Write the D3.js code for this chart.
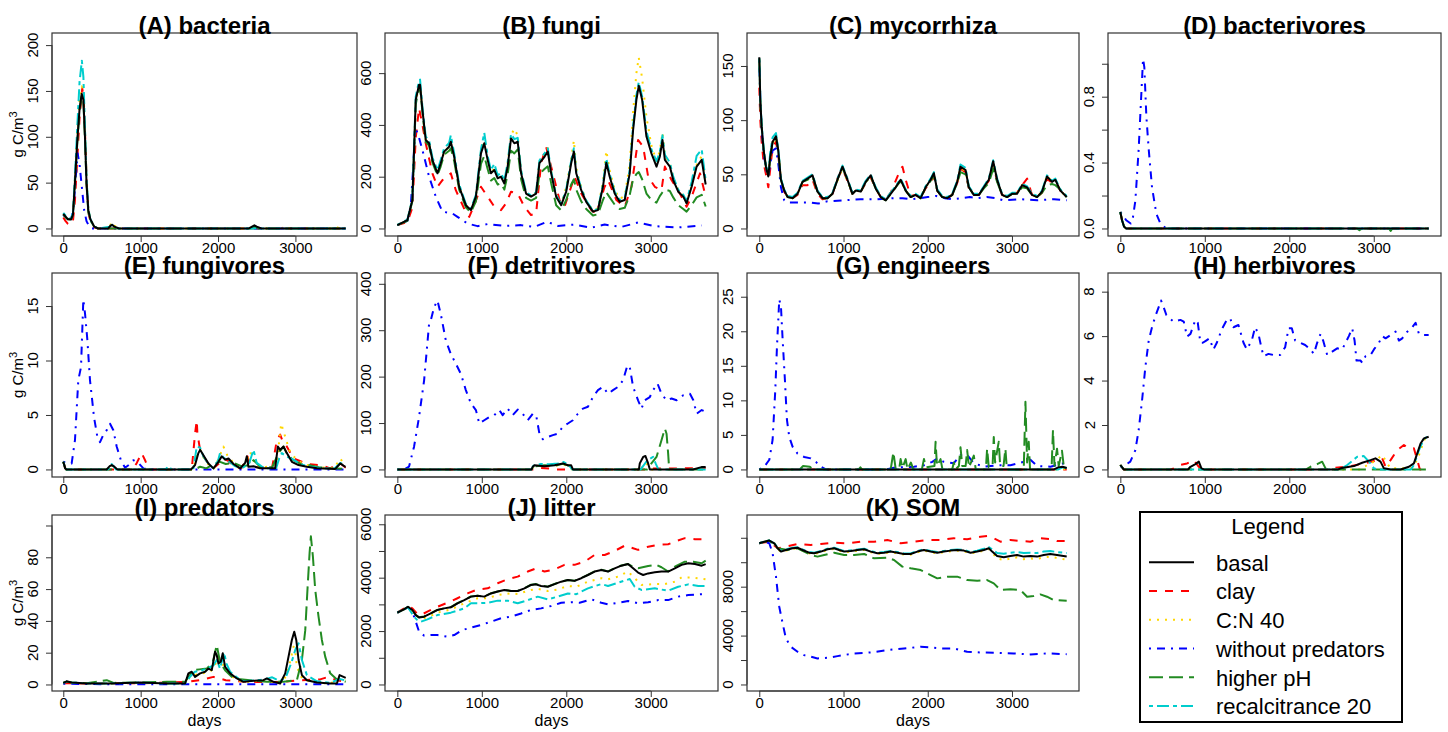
<!DOCTYPE html>
<html><head><meta charset="utf-8">
<script src="https://cdn.jsdelivr.net/npm/d3@7"></script>
<style>body{margin:0;background:#fff}svg{display:block}text{font-family:"Liberation Sans",Arial,sans-serif}</style>
</head><body><svg id="c" width="1448" height="732"></svg>
<script>
// ---- series meta ----
const seriesKeys = ['clay','cn40','nopred','ph','recalc','basal'];
const legendKeys = ['basal','clay','cn40','nopred','ph','recalc'];
const seriesLabels = {basal:'basal',clay:'clay',cn40:'C:N 40',nopred:'without predators',ph:'higher pH',recalc:'recalcitrance 20'};
const seriesColors = {basal:'#000000',clay:'#FF0000',cn40:'#FFD700',nopred:'#0000FF',ph:'#228B22',recalc:'#00CDCD'};
const seriesDash = {basal:null,clay:'8,8',cn40:'2,6',nopred:'2,6,8,6',ph:'14,6',recalc:'4,4,12,4'};
const xTicks = [0,1000,2000,3000];

// ---- data: [day, g C/m3] ----
const bacteria = {
 basal:[[0,16],[30,13],[60,10],[100,10],[125,15],[150,50],[180,95],[210,130],[238,147],[260,140],[280,100],[300,50],[323,20],[350,10],[400,2],[450,0],[580,0],[610,3],[630,4],[660,2],[720,0],[2400,0],[2440,2],[2470,3.5],[2500,2],[2560,0],[3650,0]],
 recalc:[[0,17],[30,14],[60,11],[100,11],[125,17],[150,55],[180,110],[210,160],[240,183],[260,165],[280,110],[300,55],[323,22],[350,10],[400,2],[450,0],[600,2],[630,4],[680,1],[720,0],[3650,0]],
 clay:[[0,12],[30,8],[60,5],[100,4],[125,8],[150,30],[180,75],[210,120],[245,153],[265,140],[285,95],[305,45],[330,15],[360,5],[400,1],[450,0],[3650,0]],
 cn40:[[0,16],[30,13],[60,10],[100,10],[125,15],[150,52],[180,100],[210,140],[240,155],[262,145],[282,100],[302,50],[325,20],[350,10],[400,2],[450,0],[590,0],[625,7],[660,3],[720,0],[2800,0],[2850,1],[2900,0],[3530,0],[3580,3],[3620,1],[3650,0]],
 nopred:[[0,15],[30,12],[60,10],[100,10],[130,20],[160,55],[185,82],[210,70],[240,45],[270,20],[300,8],[330,3],[370,0],[3650,0]],
 ph:[[0,15],[30,12],[60,10],[100,10],[125,15],[150,48],[180,92],[210,128],[238,145],[260,138],[280,98],[300,48],[323,18],[350,9],[400,2],[450,0],[2440,0],[2480,2],[2520,0],[3650,0]]
};
const fungi = {
 basal:[[0,13],[119,32],[178,110],[218,497],[257,555],[269,555],[297,458],[336,342],[376,329],[415,265],[475,213],[514,252],[554,297],[613,316],[633,335],[673,277],[732,161],[811,90],[871,71],[930,123],[990,290],[1029,329],[1069,265],[1108,213],[1148,226],[1188,194],[1227,200],[1267,174],[1306,239],[1346,348],[1385,329],[1425,335],[1465,213],[1524,135],[1583,123],[1643,135],[1682,252],[1742,277],[1781,297],[1821,213],[1880,123],[1940,90],[1999,142],[2058,252],[2090,297],[2118,213],[2177,148],[2236,103],[2316,65],[2375,71],[2434,161],[2474,254],[2514,200],[2573,135],[2632,103],[2692,110],[2751,213],[2791,381],[2830,497],[2858,551],[2898,497],[2949,355],[3008,290],[3068,239],[3107,277],[3139,342],[3167,265],[3226,239],[3266,187],[3325,142],[3385,123],[3424,97],[3484,161],[3543,239],[3603,265],[3650,170]],
 recalc:[[0,14],[119,34],[178,115],[218,510],[257,570],[269,575],[297,470],[336,355],[376,340],[415,275],[475,225],[514,265],[554,310],[613,330],[633,360],[673,290],[732,170],[811,95],[871,75],[930,130],[990,305],[1029,370],[1069,280],[1108,225],[1148,250],[1188,205],[1227,215],[1267,185],[1306,255],[1346,365],[1385,345],[1425,350],[1465,225],[1524,140],[1583,128],[1643,140],[1682,262],[1742,290],[1781,310],[1821,222],[1880,128],[1940,95],[1999,150],[2058,262],[2090,310],[2118,222],[2177,155],[2236,108],[2316,68],[2375,75],[2434,170],[2474,270],[2514,210],[2573,142],[2632,110],[2692,118],[2751,225],[2791,395],[2830,515],[2858,565],[2898,510],[2949,375],[3008,305],[3068,260],[3107,295],[3139,360],[3167,285],[3226,255],[3266,200],[3325,150],[3385,130],[3424,105],[3484,180],[3543,280],[3603,305],[3650,185]],
 cn40:[[0,13],[119,32],[178,110],[218,490],[257,550],[269,550],[297,455],[336,340],[376,325],[415,262],[475,212],[514,250],[554,295],[613,315],[633,330],[673,275],[732,160],[811,90],[871,72],[930,125],[990,295],[1029,340],[1069,270],[1108,218],[1148,230],[1188,200],[1227,205],[1267,180],[1306,250],[1346,360],[1385,385],[1425,360],[1465,220],[1524,138],[1583,125],[1643,138],[1682,255],[1742,285],[1781,310],[1821,220],[1880,128],[1940,95],[1999,160],[2058,270],[2090,340],[2118,235],[2177,160],[2236,108],[2316,70],[2375,78],[2434,180],[2474,300],[2514,225],[2573,150],[2632,115],[2692,125],[2751,250],[2791,450],[2830,600],[2858,660],[2898,580],[2949,430],[3008,320],[3068,260],[3107,300],[3139,370],[3167,280],[3226,250],[3266,195],[3325,148],[3385,125],[3424,100],[3484,165],[3543,245],[3603,280],[3650,175]],
 clay:[[0,13],[119,25],[178,80],[218,350],[257,465],[297,400],[336,329],[376,270],[415,213],[475,161],[534,187],[594,200],[633,213],[692,148],[791,77],[851,45],[910,90],[990,161],[1069,123],[1148,84],[1227,71],[1287,97],[1346,142],[1425,135],[1504,84],[1583,52],[1643,58],[1702,252],[1761,316],[1841,213],[1920,110],[1979,84],[2058,161],[2098,200],[2177,135],[2296,71],[2355,58],[2454,161],[2494,187],[2593,110],[2692,84],[2771,161],[2850,342],[2910,316],[2969,200],[3048,161],[3127,148],[3167,239],[3246,187],[3345,135],[3424,84],[3484,123],[3583,213],[3650,123]],
 ph:[[0,13],[119,30],[178,105],[218,480],[257,545],[269,545],[297,450],[336,335],[376,320],[415,255],[475,205],[514,240],[554,285],[613,300],[633,310],[673,260],[732,150],[811,82],[871,62],[930,105],[990,250],[1029,280],[1069,230],[1108,185],[1148,195],[1188,170],[1227,175],[1267,150],[1306,210],[1346,300],[1385,290],[1425,305],[1465,190],[1524,118],[1583,108],[1643,118],[1682,210],[1742,230],[1781,240],[1821,175],[1880,90],[1940,70],[1999,110],[2058,170],[2090,190],[2118,150],[2177,105],[2236,75],[2316,50],[2375,55],[2434,110],[2474,140],[2514,120],[2573,92],[2632,75],[2692,80],[2751,130],[2791,190],[2830,210],[2858,218],[2898,190],[2949,135],[3008,110],[3068,100],[3107,125],[3139,140],[3167,150],[3226,145],[3266,120],[3325,90],[3385,75],[3424,65],[3484,90],[3543,120],[3603,130],[3650,85]],
 nopred:[[0,13],[119,30],[160,90],[190,250],[211,394],[257,350],[297,303],[376,200],[455,123],[534,65],[653,58],[712,45],[831,19],[950,9],[1069,17],[1267,10],[1465,13],[1623,6],[1773,26],[1900,10],[2098,15],[2296,3],[2454,15],[2652,6],[2850,23],[3048,9],[3325,4],[3603,12]]
};
const mycorrhiza = {
 basal:[[0,158],[12,118],[28,94],[52,72],[79,57],[107,48],[130,66],[158,80],[198,85],[225,72],[257,45],[296,35],[336,29],[395,28],[454,32],[513,43],[573,46],[632,49],[691,34],[751,28],[810,28],[869,32],[928,45],[988,57],[1047,45],[1106,32],[1146,35],[1205,34],[1264,43],[1323,49],[1382,37],[1442,29],[1501,26],[1560,32],[1619,38],[1678,45],[1738,35],[1797,29],[1856,31],[1915,28],[1975,38],[2034,45],[2073,51],[2113,35],[2172,29],[2231,28],[2291,31],[2350,43],[2389,57],[2449,54],[2488,38],[2547,31],[2607,31],[2666,38],[2725,45],[2777,62],[2824,45],[2883,31],[2942,29],[3001,32],[3061,32],[3120,40],[3179,38],[3238,31],[3298,29],[3357,34],[3416,48],[3475,43],[3515,45],[3574,35],[3650,29]],
 clay:[[0,130],[12,100],[28,80],[52,60],[79,50],[107,38],[130,55],[158,75],[198,80],[225,68],[257,44],[296,34],[336,29],[395,28],[454,31],[513,40],[573,40],[632,45],[691,32],[751,27],[810,28],[869,32],[928,46],[988,55],[1047,44],[1106,32],[1146,35],[1205,34],[1264,42],[1323,47],[1382,37],[1442,29],[1501,27],[1560,33],[1619,44],[1678,55],[1700,57],[1738,45],[1797,30],[1856,31],[1915,28],[1975,37],[2034,43],[2073,48],[2113,35],[2172,29],[2231,28],[2291,31],[2350,42],[2389,55],[2449,52],[2488,37],[2547,31],[2607,31],[2666,38],[2725,44],[2777,58],[2824,44],[2883,31],[2942,29],[3001,32],[3061,33],[3120,40],[3180,46],[3238,31],[3298,29],[3357,33],[3416,46],[3475,42],[3515,43],[3574,35],[3650,29]],
 cn40:[[0,156],[12,117],[28,93],[52,71],[79,56],[107,48],[130,65],[158,79],[198,84],[225,71],[257,45],[296,35],[336,29],[395,28],[454,32],[513,42],[573,45],[632,48],[691,34],[751,28],[810,28],[869,32],[928,44],[988,56],[1047,44],[1106,32],[1146,35],[1205,34],[1264,43],[1323,48],[1382,37],[1442,29],[1501,26],[1560,32],[1619,38],[1678,44],[1738,35],[1797,29],[1856,31],[1915,28],[1975,38],[2034,44],[2073,50],[2113,35],[2172,29],[2231,28],[2291,31],[2350,43],[2389,56],[2449,53],[2488,38],[2547,31],[2607,31],[2666,38],[2725,45],[2777,60],[2824,45],[2883,31],[2942,29],[3001,32],[3061,32],[3120,40],[3179,38],[3238,31],[3298,29],[3357,34],[3416,49],[3475,43],[3515,45],[3574,35],[3650,29]],
 recalc:[[0,157],[12,120],[28,96],[52,74],[79,58],[107,50],[130,70],[158,84],[198,88],[225,74],[257,46],[296,36],[336,30],[395,29],[454,33],[513,44],[573,47],[632,50],[691,35],[751,29],[810,29],[869,33],[928,46],[988,58],[1047,46],[1106,33],[1146,36],[1205,35],[1264,44],[1323,50],[1382,38],[1442,30],[1501,27],[1560,33],[1619,39],[1678,46],[1738,36],[1797,30],[1856,32],[1915,29],[1975,39],[2034,46],[2073,52],[2113,36],[2172,30],[2231,29],[2291,32],[2350,44],[2389,59],[2449,56],[2488,39],[2547,32],[2607,32],[2666,39],[2725,46],[2777,63],[2824,46],[2883,32],[2942,30],[3001,33],[3061,33],[3120,41],[3179,39],[3238,32],[3298,30],[3357,35],[3416,49],[3475,44],[3515,46],[3574,36],[3650,30]],
 ph:[[0,157],[12,118],[28,94],[52,72],[79,57],[107,48],[130,66],[158,80],[198,85],[225,72],[257,45],[296,35],[336,29],[395,28],[454,32],[513,43],[573,45],[632,48],[691,34],[751,28],[810,28],[869,32],[928,45],[988,56],[1047,45],[1106,32],[1146,35],[1205,34],[1264,43],[1323,48],[1382,37],[1442,29],[1501,26],[1560,32],[1619,38],[1678,44],[1738,35],[1797,29],[1856,31],[1915,28],[1975,38],[2034,44],[2073,49],[2113,35],[2172,29],[2231,28],[2291,31],[2350,42],[2389,52],[2449,50],[2488,38],[2547,31],[2607,31],[2666,37],[2725,42],[2777,55],[2824,43],[2883,31],[2942,29],[3001,32],[3061,32],[3120,38],[3179,37],[3238,31],[3298,29],[3357,33],[3416,40],[3475,41],[3515,40],[3574,36],[3650,29]],
 nopred:[[0,155],[12,118],[28,92],[52,70],[79,55],[107,48],[130,60],[158,72],[198,74],[225,60],[257,38],[296,26],[336,24],[450,24],[600,24],[700,23],[800,25],[1000,26],[1200,27],[1400,27],[1600,28],[1700,28],[1800,27],[2000,29],[2100,30],[2200,28],[2300,27],[2400,28],[2500,29],[2600,28],[2700,29],[2800,28],[2900,26],[3100,27],[3300,26],[3500,27],[3650,26]]
};
const bacterivores = {
 basal:[[0,0.1],[20,0.05],[45,0.01],[70,0],[3650,0]],
 clay:[[0,0.1],[20,0.05],[45,0.01],[70,0],[3650,0]],
 cn40:[[0,0.1],[20,0.05],[45,0.01],[70,0],[3650,0]],
 recalc:[[0,0.1],[20,0.05],[45,0.01],[70,0],[3650,0]],
 ph:[[0,0.1],[20,0.05],[45,0.01],[70,0],[2800,0],[2830,-0.01],[2860,0],[3180,0],[3200,-0.015],[3220,0],[3650,0]],
 nopred:[[0,0.10],[30,0.08],[70,0.05],[123,0.03],[150,0.07],[178,0.17],[217,0.48],[245,0.78],[269,1.03],[284,0.98],[308,0.68],[336,0.48],[375,0.25],[426,0.09],[474,0.03],[533,0.004],[600,0],[3650,0]]
};
const fungivores = {
 nopred:[[0,0.7],[43,0.6],[108,0.55],[151,2.7],[194,8.2],[229,9.4],[259,15.6],[281,14.3],[311,11.9],[345,8.2],[397,4.8],[440,3.0],[475,2.5],[518,3.2],[561,3.6],[604,4.2],[647,3.6],[690,2.1],[742,0.9],[798,0.15],[863,0.5],[906,0.85],[970,0.6],[1035,0.1],[1100,0],[3650,0]],
 basal:[[0,0.7],[25,0.1],[40,0],[560,0],[600,0.3],[626,0.4],[660,0.25],[700,0],[1650,0],[1703,0.4],[1746,1.5],[1768,1.8],[1811,1.3],[1876,0.55],[1940,0.1],[2005,0.7],[2048,1.2],[2091,0.9],[2135,1.0],[2200,0.5],[2286,0.1],[2350,0.6],[2372,1.2],[2393,0.25],[2458,0.3],[2544,0.1],[2738,0.1],[2773,2.1],[2803,1.8],[2846,2.1],[2889,1.5],[2954,0.7],[3040,0.4],[3148,0.25],[3278,0.1],[3515,0.05],[3579,0.55],[3643,0.25],[3650,0.25]],
 clay:[[0,0.7],[25,0.1],[40,0],[900,0],[950,0.6],[1013,1.5],[1060,0.8],[1100,0],[1660,0],[1703,3.3],[1725,4.5],[1733,3.3],[1768,1.8],[1811,1.2],[1876,0.5],[1940,0.1],[2020,0.6],[2070,1.0],[2130,0.8],[2200,0.3],[2300,0.1],[2380,1.2],[2420,0.3],[2500,0.2],[2700,0.2],[2760,2.7],[2803,3.2],[2840,2.5],[2881,2.2],[2976,1.0],[3050,0.8],[3148,0.5],[3320,0.4],[3450,0.1],[3570,0.6],[3643,0.2],[3650,0.2]],
 recalc:[[0,0.7],[25,0.1],[40,0],[580,0],[626,0.5],[680,0],[1320,0],[1360,0.3],[1400,0],[1680,0],[1725,2.1],[1768,2.0],[1811,1.2],[1876,0.5],[1940,0.1],[2000,0.8],[2026,1.5],[2070,1.1],[2130,0.8],[2220,0.3],[2300,0.1],[2400,0.5],[2458,1.8],[2500,0.6],[2600,0.1],[2750,0.1],[2790,1.0],[2825,1.5],[2880,1.2],[2976,0.9],[3060,0.5],[3150,0.3],[3300,0.15],[3500,0.05],[3580,0.6],[3650,0.3]],
 cn40:[[0,0.7],[25,0.1],[40,0],[580,0],[626,0.4],[680,0],[1680,0],[1730,1.5],[1770,1.8],[1820,1.0],[1880,0.4],[1950,0.1],[2020,1.2],[2070,2.1],[2120,1.3],[2200,0.6],[2300,0.1],[2370,0.8],[2415,1.6],[2460,0.8],[2550,0.1],[2760,0.5],[2790,2.6],[2816,4.2],[2868,3.0],[2920,1.8],[2976,1.2],[3060,0.7],[3150,0.4],[3300,0.2],[3500,0.1],[3579,1.0],[3620,0.6],[3650,0.4]],
 ph:[[0,0.7],[25,0.1],[40,0],[1700,0],[1768,0.25],[1850,0.1],[1940,0.5],[2026,0.7],[2100,0.5],[2200,0.6],[2300,0.3],[2400,0.4],[2458,0.85],[2550,0.2],[2700,0.2],[2781,1.5],[2846,2.1],[2900,1.3],[2976,0.85],[3070,0.5],[3170,0.4],[3300,0.2],[3450,0.1],[3650,0.05]]
};
const detritivores = {
 nopred:[[0,0],[79,0],[138,6],[198,49],[257,113],[317,192],[376,314],[396,321],[436,350],[475,364],[514,335],[574,278],[633,249],[692,228],[752,206],[811,171],[871,142],[930,128],[970,99],[1029,106],[1089,113],[1148,117],[1207,128],[1247,117],[1306,131],[1366,117],[1425,129],[1484,120],[1544,106],[1603,120],[1643,117],[1682,77],[1722,65],[1781,70],[1841,74],[1900,77],[1959,92],[2019,99],[2078,106],[2137,120],[2197,131],[2256,135],[2316,156],[2375,171],[2434,178],[2494,163],[2553,171],[2613,178],[2672,192],[2723,224],[2751,221],[2791,178],[2850,149],[2890,131],[2929,149],[2989,156],[3028,171],[3080,185],[3127,163],[3187,149],[3246,153],[3306,149],[3385,160],[3464,163],[3504,149],[3543,120],[3603,128],[3650,124]],
 basal:[[0,0],[1590,0],[1603,6],[1623,9],[1742,7],[1861,9],[1959,13],[2019,9],[2058,9],[2078,0],[2860,0],[2870,13],[2910,27],[2937,29],[2969,13],[2989,0],[3500,0],[3600,5],[3650,5]],
 recalc:[[0,0],[1590,0],[1610,8],[1700,12],[1800,11],[1900,13],[1970,16],[2030,10],[2070,0],[2880,0],[2920,10],[2960,20],[3028,27],[3060,12],[3090,0],[3650,0]],
 cn40:[[0,0],[1590,0],[1610,5],[1742,8],[1861,8],[1959,11],[2030,7],[2070,0],[2880,0],[2940,15],[2980,5],[3000,0],[3650,0]],
 clay:[[0,0],[1650,0],[1700,3],[1800,2],[1850,0],[2950,0],[3000,2],[3300,2],[3600,3],[3650,3]],
 ph:[[0,0],[1590,0],[1610,6],[1742,9],[1861,8],[1959,12],[2019,9],[2070,0],[2960,0],[3008,13],[3068,27],[3127,63],[3167,88],[3187,77],[3206,34],[3218,0],[3650,0]]
};
const engineers = {
 nopred:[[0,0],[59,0.4],[119,1.4],[158,4.3],[190,11.5],[210,17.8],[237,24.6],[257,23.6],[277,18.8],[304,13],[328,7.2],[356,4.7],[395,3.3],[454,2.3],[533,1.8],[612,1.6],[672,1.1],[731,0.4],[790,0],[1500,0],[1600,0.25],[1837,0.4],[1955,0.6],[2054,1.1],[2113,1.6],[2192,1.1],[2310,0.9],[2389,2.1],[2468,2.1],[2547,0.9],[2666,0.4],[2824,0.6],[2982,0.6],[3140,1.1],[3219,1.4],[3298,0.5],[3456,0.4],[3650,1.0]],
 ph:[[0,0],[480,0],[520,0.5],[600,0.4],[640,0],[1180,0],[1200,0.3],[1220,0],[1300,0],[1320,0.4],[1340,0],[1560,0],[1592,2.5],[1620,0],[1660,0],[1678,1.5],[1700,0.2],[1738,1.5],[1760,0],[1800,1.0],[1830,0],[1930,0],[1955,1.5],[1980,0.3],[2080,0.5],[2093,4.0],[2110,0.5],[2152,1.5],[2175,0],[2290,0],[2310,1.0],[2330,0],[2370,0.5],[2389,3.2],[2410,0.5],[2450,0.5],[2468,2.8],[2490,0.3],[2547,2.0],[2570,0],[2690,0],[2705,3.0],[2725,0.3],[2770,0.5],[2784,4.7],[2800,1],[2843,4.0],[2860,0.5],[2900,0.5],[2922,3.0],[2940,0],[3140,0],[3160,9.8],[3180,1],[3199,4.0],[3215,0],[3470,0],[3487,5.7],[3505,0.5],[3535,3.0],[3555,0.5],[3594,2.7],[3615,0.5],[3650,0.5]],
 basal:[[0,0],[3500,0],[3550,0.3],[3600,0.4],[3650,0.2]],
 clay:[[0,0],[3650,0]],
 recalc:[[0,0],[3550,0],[3600,0.3],[3650,0.2]],
 cn40:[[0,0],[3600,0],[3650,0.1]]
};
const herbivores = {
 nopred:[[0,0.12],[59,0.2],[118,0.35],[178,0.87],[217,1.77],[257,3.1],[296,4.6],[336,5.8],[375,6.4],[415,6.9],[454,7.3],[482,7.6],[513,7.3],[545,6.95],[585,6.8],[632,6.65],[711,6.73],[751,6.65],[790,5.98],[830,6.1],[889,6.73],[917,6.6],[948,5.7],[976,5.7],[1016,5.8],[1055,5.9],[1102,5.4],[1142,5.7],[1201,6.3],[1260,6.73],[1300,6.8],[1339,6.4],[1398,6.5],[1458,5.7],[1497,5.4],[1556,5.8],[1596,6.4],[1635,6.1],[1675,5.4],[1695,5.1],[1754,5.2],[1813,5.15],[1892,5.15],[1951,5.5],[1991,6.35],[2030,6.35],[2070,5.8],[2129,5.7],[2188,5.6],[2251,5.4],[2291,5.2],[2330,5.7],[2370,6.1],[2401,5.8],[2449,5.15],[2508,5.3],[2567,5.45],[2626,5.4],[2666,5.7],[2705,6.0],[2745,6.35],[2773,5.8],[2796,4.9],[2844,4.9],[2863,4.8],[2903,5.1],[2962,5.15],[3002,5.4],[3061,5.7],[3100,6.0],[3140,5.9],[3199,6.05],[3258,6.2],[3298,5.8],[3337,5.9],[3397,6.2],[3456,6.4],[3495,6.6],[3535,6.1],[3594,6.05],[3650,6.05]],
 basal:[[0,0.2],[40,0],[800,0],[830,0.12],[889,0.24],[929,0.35],[960,0.05],[990,0],[2580,0],[2607,0.05],[2765,0.15],[2863,0.3],[2962,0.42],[3020,0.5],[3080,0.35],[3120,0.05],[3200,0],[3317,0],[3416,0.12],[3475,0.27],[3515,0.72],[3554,1.17],[3594,1.4],[3650,1.47]],
 clay:[[0,0.2],[40,0],[600,0],[632,0.05],[711,0.2],[790,0.27],[870,0.42],[929,0.12],[968,0],[2500,0],[2528,0.07],[2686,0.12],[2883,0.27],[3041,0.42],[3100,0.5],[3140,0.12],[3199,0.42],[3278,0.87],[3357,1.1],[3416,0.95],[3475,0.95],[3515,0.42],[3546,0],[3650,0]],
 cn40:[[0,0.2],[40,0],[2850,0],[2922,0.2],[3002,0.35],[3100,0.65],[3160,0.27],[3199,0.05],[3436,0.05],[3515,0.42],[3594,1.3],[3650,1.6]],
 recalc:[[0,0.2],[40,0],[2600,0],[2686,0.2],[2804,0.57],[2883,0.6],[2962,0.27],[3002,0.05],[3050,0],[3440,0],[3475,0.2],[3535,0.87],[3594,1.37],[3650,1.52]],
 ph:[[0,0.2],[40,0],[2200,0],[2251,0.12],[2330,0.24],[2389,0.35],[2429,0.05],[2450,0],[3650,0]]
};
const predators = {
 nopred:[[0,0.5],[500,0.2],[3650,0.2]],
 basal:[[0,1],[43,2],[108,1.3],[302,0.6],[604,0.6],[992,1.3],[1337,0.6],[1574,0.6],[1617,7],[1660,8],[1703,4.8],[1768,7],[1833,8],[1876,10],[1919,9],[1962,20.6],[1983,18.5],[2005,13.2],[2035,14.3],[2061,19.6],[2091,11.1],[2156,7],[2243,3.8],[2329,1.7],[2458,2.3],[2587,2.7],[2631,3.8],[2717,1.7],[2803,0.6],[2868,7],[2911,17.5],[2954,28],[2985,33.2],[3011,28],[3041,15.4],[3084,5.9],[3148,2.7],[3278,1.3],[3450,0.6],[3536,0.6],[3571,5.9],[3622,4.8],[3650,4.2]],
 ph:[[0,1],[43,1.8],[108,1.2],[302,0.8],[561,2.7],[650,1],[992,1.2],[1337,1.7],[1574,1.7],[1682,9],[1760,9.5],[1854,10],[1932,14],[1983,24.8],[2026,14],[2091,9],[2199,3.8],[2415,2.7],[2631,1.7],[2846,1.7],[3019,2.7],[3084,15.4],[3127,34],[3158,61.6],[3183,82.6],[3200,93.2],[3226,80.5],[3256,59.5],[3299,42.7],[3342,28],[3385,17.5],[3450,7],[3536,3.2],[3650,1.7]],
 recalc:[[0,1],[43,1.8],[108,1.2],[302,0.6],[604,0.6],[992,1.2],[1337,0.6],[1574,0.6],[1640,5],[1700,8],[1800,9],[1900,11],[1940,12],[1983,15.4],[2026,10],[2078,20],[2110,13],[2156,8],[2243,4.5],[2329,2],[2458,2.5],[2587,3],[2700,4.5],[2800,2],[2880,5],[2950,14],[3000,22],[3041,25.9],[3084,15.4],[3148,5.9],[3278,2],[3450,1],[3571,3.5],[3650,2.5]],
 cn40:[[0,1],[43,1.8],[108,1.2],[302,0.6],[604,0.6],[992,1.2],[1337,0.6],[1574,0.6],[1640,5],[1700,6],[1800,7],[1900,8],[1960,12],[2000,17],[2026,15],[2070,12],[2156,6],[2243,3],[2329,1.5],[2458,2],[2587,2.5],[2700,1.5],[2850,2],[2920,12],[2976,23.8],[3000,20],[3019,11],[3084,4],[3148,2.5],[3278,1.2],[3450,0.6],[3571,4],[3650,3]],
 clay:[[0,0.8],[300,0.6],[1000,0.8],[1595,1.7],[1800,3],[1940,4.8],[2100,2.7],[2400,1.5],[2800,1.5],[3070,2.7],[3320,3.2],[3424,4.8],[3536,2.7],[3650,1.7]]
};
const litter = {
 basal:[[0,2690],[79,2810],[126,2910],[178,2790],[218,2600],[257,2510],[317,2540],[396,2660],[475,2790],[554,2850],[633,2890],[712,3040],[792,3160],[871,3290],[950,3320],[1029,3290],[1108,3410],[1188,3480],[1267,3540],[1346,3500],[1425,3500],[1504,3600],[1583,3730],[1643,3750],[1702,3690],[1781,3660],[1861,3760],[1940,3850],[2019,3910],[2098,3880],[2177,3980],[2256,4100],[2335,4230],[2415,4290],[2494,4230],[2573,4350],[2652,4450],[2731,4510],[2791,4350],[2850,4190],[2910,4100],[2969,4160],[3048,4200],[3127,4230],[3206,4230],[3285,4350],[3365,4480],[3444,4540],[3523,4510],[3603,4450],[3650,4510]],
 ph:[[0,2690],[79,2810],[126,2905],[178,2785],[218,2600],[257,2515],[317,2545],[396,2665],[475,2795],[554,2855],[633,2895],[712,3045],[792,3165],[871,3295],[950,3320],[1029,3295],[1108,3415],[1188,3485],[1267,3540],[1346,3505],[1425,3505],[1504,3605],[1583,3735],[1643,3760],[1702,3700],[1781,3665],[1861,3765],[1940,3855],[2019,3915],[2098,3885],[2177,3985],[2256,4105],[2335,4235],[2415,4295],[2494,4235],[2573,4355],[2652,4455],[2731,4510],[2791,4400],[2850,4350],[2969,4440],[3068,4480],[3127,4390],[3206,4230],[3285,4410],[3404,4600],[3504,4600],[3603,4540],[3650,4640]],
 clay:[[0,2690],[126,2940],[178,2850],[237,2640],[277,2600],[356,2730],[475,2910],[594,3060],[712,3230],[831,3410],[950,3560],[1069,3600],[1188,3790],[1306,3940],[1425,4040],[1544,4230],[1643,4350],[1742,4230],[1861,4310],[1979,4480],[2098,4480],[2217,4600],[2335,4850],[2454,4850],[2573,5000],[2692,5200],[2791,5100],[2850,5040],[2969,5160],[3088,5230],[3206,5250],[3285,5350],[3404,5480],[3523,5440],[3603,5440],[3650,5540]],
 cn40:[[0,2690],[126,2890],[218,2600],[277,2475],[356,2510],[475,2690],[633,2810],[792,3040],[950,3230],[1069,3230],[1188,3350],[1346,3410],[1425,3390],[1583,3540],[1662,3580],[1781,3500],[1900,3560],[2019,3690],[2118,3660],[2256,3850],[2415,3980],[2494,3940],[2613,4040],[2731,4230],[2791,4040],[2890,3730],[3048,3760],[3167,3760],[3285,3850],[3365,4010],[3484,4010],[3650,3940]],
 recalc:[[0,2690],[126,2890],[198,2540],[237,2410],[277,2350],[356,2440],[475,2600],[633,2690],[792,2850],[871,3040],[950,3040],[1069,3060],[1188,3140],[1306,3140],[1425,3040],[1544,3160],[1662,3290],[1781,3190],[1900,3290],[2019,3410],[2118,3380],[2256,3600],[2415,3760],[2494,3690],[2613,3810],[2751,3950],[2810,3660],[2890,3540],[3048,3600],[3206,3510],[3325,3660],[3444,3750],[3563,3690],[3650,3690]],
 nopred:[[0,2690],[126,2890],[178,2730],[218,2350],[257,1980],[317,1830],[396,1850],[475,1850],[594,1790],[673,1850],[772,2040],[871,2130],[990,2230],[1108,2350],[1227,2480],[1346,2540],[1465,2660],[1583,2790],[1702,2850],[1821,2940],[1940,3060],[2058,3080],[2157,3060],[2296,3190],[2415,3060],[2494,3000],[2613,3060],[2731,3130],[2850,3040],[2969,3080],[3088,3160],[3206,3160],[3325,3290],[3444,3350],[3603,3380],[3650,3380]]
};
const som = {
 basal:[[0,11550],[59,11680],[119,11770],[178,11550],[218,11140],[257,10870],[316,11000],[395,11140],[454,11190],[513,11000],[592,10780],[652,10730],[731,10870],[810,11060],[889,11140],[948,11000],[1008,10870],[1087,10920],[1166,11000],[1245,11060],[1324,10870],[1402,10730],[1481,10780],[1560,10870],[1639,10780],[1718,10670],[1797,10670],[1876,10870],[1955,11000],[2034,10870],[2113,10780],[2192,10870],[2271,10950],[2350,11000],[2429,10950],[2508,10780],[2587,10870],[2666,11000],[2725,11140],[2765,10870],[2824,10510],[2903,10400],[2982,10510],[3061,10590],[3140,10460],[3219,10510],[3298,10460],[3377,10590],[3456,10670],[3535,10590],[3650,10460]],
 recalc:[[0,11550],[59,11680],[119,11770],[178,11550],[218,11180],[257,10920],[316,11050],[395,11180],[454,11230],[513,11050],[592,10830],[652,10780],[731,10920],[810,11110],[889,11190],[948,11050],[1008,10920],[1087,10970],[1166,11050],[1245,11110],[1324,10920],[1402,10780],[1481,10830],[1560,10920],[1639,10830],[1718,10720],[1797,10720],[1876,10920],[1955,11050],[2034,10920],[2113,10830],[2192,10920],[2271,11000],[2350,11050],[2429,11000],[2508,10830],[2587,10950],[2666,11100],[2725,11250],[2765,11050],[2824,10750],[2903,10700],[2982,10780],[3061,10830],[3140,10750],[3219,10780],[3298,10750],[3377,10870],[3456,10920],[3535,10830],[3650,10750]],
 cn40:[[0,11550],[59,11680],[119,11770],[178,11550],[218,11100],[257,10830],[316,10950],[395,11090],[454,11140],[513,10950],[592,10730],[652,10680],[731,10820],[810,11010],[889,11090],[948,10950],[1008,10820],[1087,10870],[1166,10950],[1245,11010],[1324,10820],[1402,10680],[1481,10730],[1560,10820],[1639,10730],[1718,10620],[1797,10620],[1876,10820],[1955,10950],[2034,10820],[2113,10730],[2192,10820],[2271,10900],[2350,10950],[2429,10900],[2508,10730],[2587,10820],[2666,10950],[2725,11080],[2765,10800],[2824,10300],[2903,10180],[2982,10300],[3061,10400],[3140,10250],[3219,10300],[3298,10280],[3377,10400],[3456,10450],[3535,10350],[3650,10200]],
 clay:[[0,11550],[119,11680],[218,11140],[316,11270],[454,11490],[612,11410],[731,11490],[889,11600],[1047,11550],[1205,11680],[1363,11680],[1521,11820],[1679,11550],[1837,11680],[1995,11820],[2152,11820],[2310,11960],[2468,11880],[2626,12090],[2705,12150],[2784,11960],[2863,11680],[2982,11820],[3100,11740],[3219,11680],[3337,11960],[3456,11900],[3535,11740],[3650,11740]],
 ph:[[0,11550],[119,11770],[218,11140],[336,11000],[454,11140],[533,10870],[612,10590],[691,10460],[770,10590],[889,10780],[1008,10590],[1126,10590],[1245,10670],[1363,10320],[1521,10370],[1600,10180],[1698,9640],[1797,9500],[1916,9360],[2034,8950],[2113,8680],[2231,8820],[2350,8820],[2468,8540],[2587,8490],[2705,8540],[2784,8270],[2863,7730],[2982,7780],[3100,7730],[3179,7180],[3258,7230],[3337,7370],[3416,7180],[3495,6910],[3650,6850]],
 nopred:[[0,11550],[59,11680],[119,11550],[158,10730],[198,8820],[237,6360],[277,5000],[316,3770],[375,3080],[454,2680],[533,2400],[612,2270],[691,2130],[810,2180],[928,2320],[1126,2540],[1324,2620],[1521,2810],[1718,2950],[1916,3080],[2034,3030],[2152,2950],[2310,2950],[2468,2680],[2626,2620],[2824,2590],[3021,2540],[3219,2460],[3416,2540],[3650,2480]]
};

// ---- panel definitions ----
const panels = [
 {title:'(A) bacteria', data:bacteria, ymax:205, yTicks:[0,50,100,150,200], yLabels:[0,50,100,150,200], col:0,row:0, ylab:true},
 {title:'(B) fungi', data:fungi, ymax:726, yTicks:[0,200,400,600], yLabels:[0,200,400,600], col:1,row:0},
 {title:'(C) mycorrhiza', data:mycorrhiza, ymax:173.5, yTicks:[0,50,100,150], yLabels:[0,50,100,150], col:2,row:0},
 {title:'(D) bacterivores', data:bacterivores, ymax:1.141, yTicks:[0,0.2,0.4,0.6,0.8,1.0], yLabels:[0,0.4,0.8], fmt:d3.format('.1f'), col:3,row:0},
 {title:'(E) fungivores', data:fungivores, ymax:17.34, yTicks:[0,5,10,15], yLabels:[0,5,10,15], col:0,row:1, ylab:true},
 {title:'(F) detritivores', data:detritivores, ymax:407, yTicks:[0,100,200,300,400], yLabels:[0,100,200,300,400], col:1,row:1},
 {title:'(G) engineers', data:engineers, ymax:27.34, yTicks:[0,5,10,15,20,25], yLabels:[0,5,10,15,20,25], col:2,row:1},
 {title:'(H) herbivores', data:herbivores, ymax:8.5, yTicks:[0,2,4,6,8], yLabels:[0,2,4,6,8], col:3,row:1},
 {title:'(I) predators', data:predators, ymax:102.5, yTicks:[0,20,40,60,80,100], yLabels:[0,20,40,60,80], col:0,row:2, ylab:true, xlab:true},
 {title:'(J) litter', data:litter, ymax:6103, yTicks:[0,1000,2000,3000,4000,5000,6000], yLabels:[0,2000,4000,6000], col:1,row:2, xlab:true},
 {title:'(K) SOM', data:som, ymax:13330, yTicks:[0,2000,4000,6000,8000,10000,12000], yLabels:[0,4000,8000], col:2,row:2, xlab:true}
];
const colX = [[52,357],[385,718],[747,1079],[1108,1441]];
const rowY = [[33,236],[273,477],[515,691]];

const svg = d3.select('#c');
svg.append('rect').attr('width',1448).attr('height',732).attr('fill','#fff');
const axisCol = '#333';

panels.forEach((p,i)=>{
  const [x0,x1] = colX[p.col], [y0,y1] = rowY[p.row];
  const x = d3.scaleLinear().domain([-0.04*3650, 1.04*3650]).range([x0,x1]);
  const y = d3.scaleLinear().domain([-0.04*p.ymax, 1.04*p.ymax]).range([y1,y0]);
  const g = svg.append('g');
  const clipId = 'clip'+i;
  g.append('clipPath').attr('id',clipId).append('rect').attr('x',x0).attr('y',y0).attr('width',x1-x0).attr('height',y1-y0);
  const line = d3.line().x(d=>x(d[0])).y(d=>y(d[1]));
  const lg = g.append('g').attr('clip-path',`url(#${clipId})`);
  seriesKeys.forEach(k=>{
    if(!p.data[k]) return;
    lg.append('path').attr('d',line(p.data[k])).attr('fill','none')
      .attr('stroke',seriesColors[k]).attr('stroke-width',2)
      .attr('stroke-dasharray',seriesDash[k]).attr('stroke-linejoin','round');
  });
  // box
  g.append('rect').attr('x',x0).attr('y',y0).attr('width',x1-x0).attr('height',y1-y0)
    .attr('fill','none').attr('stroke',axisCol).attr('stroke-width',1.2);
  // x axis
  const xa = d3.axisBottom(x).tickValues(xTicks).tickSize(6).tickSizeOuter(0).tickFormat(d3.format('d'));
  const gx = g.append('g').attr('transform',`translate(0,${y1})`).call(xa);
  gx.select('.domain').attr('d',`M${x(0)},0H${x(3000)}`).attr('stroke',axisCol);
  gx.selectAll('.tick line').attr('stroke',axisCol);
  gx.selectAll('.tick text').attr('font-size',15).attr('fill','#000').attr('dy',null).attr('y',16.5).attr('dominant-baseline','auto');
  // y axis
  const fmt = p.fmt || d3.format('d');
  const ya = d3.axisLeft(y).tickValues(p.yTicks).tickSize(6).tickSizeOuter(0).tickFormat(()=> '');
  const gy = g.append('g').attr('transform',`translate(${x0},0)`).call(ya);
  gy.select('.domain').attr('d',`M0,${y(p.yTicks[0])}V${y(p.yTicks[p.yTicks.length-1])}`).attr('stroke',axisCol);
  gy.selectAll('.tick line').attr('stroke',axisCol);
  gy.selectAll('.tick text').remove();
  p.yLabels.forEach(v=>{
    const ty = y(v), tx = x0-13.5;
    g.append('text').attr('x',tx).attr('y',ty).attr('transform',`rotate(-90,${tx},${ty})`)
      .attr('text-anchor','middle').attr('font-size',15).attr('fill','#000').text(fmt(v));
  });
  // title
  g.append('text').attr('x',(x0+x1)/2).attr('y',y0+0.5).attr('text-anchor','middle')
    .attr('font-size',24).attr('font-weight','bold').attr('fill','#000').text(p.title);
  if(p.ylab){
    const cy=(y0+y1)/2, cx=23;
    const t = g.append('text').attr('x',cx).attr('y',cy).attr('transform',`rotate(-90,${cx},${cy})`)
      .attr('text-anchor','middle').attr('font-size',15).attr('fill','#000');
    t.append('tspan').text('g C/m');
    t.append('tspan').attr('dy',-6).attr('font-size',11).text('3');
  }
  if(p.xlab){
    g.append('text').attr('x',(x0+x1)/2).attr('y',726).attr('text-anchor','middle')
      .attr('font-size',16).attr('fill','#000').text('days');
  }
});

// legend
const lgd = svg.append('g');
lgd.append('rect').attr('x',1140).attr('y',512).attr('width',262).attr('height',210)
  .attr('fill','#fff').attr('stroke','#000').attr('stroke-width',2);
lgd.append('text').attr('x',1268).attr('y',534).attr('text-anchor','middle').attr('font-size',22).attr('fill','#000').text('Legend');
legendKeys.forEach((k,i)=>{
  const by = 570.7 + i*28.74;
  lgd.append('line').attr('x1',1149).attr('x2',1194).attr('y1',by-8.5).attr('y2',by-8.5)
    .attr('stroke',seriesColors[k]).attr('stroke-width',2).attr('stroke-dasharray',seriesDash[k]);
  lgd.append('text').attr('x',1216).attr('y',by).attr('font-size',22).attr('fill','#000').text(seriesLabels[k]);
});
</script></body></html>
